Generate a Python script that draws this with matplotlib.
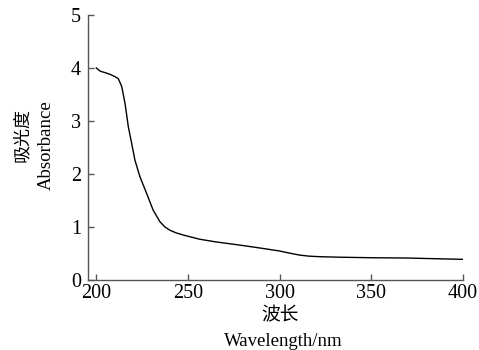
import matplotlib
matplotlib.use("Agg")
import matplotlib.pyplot as plt

wavelength = [200, 202.2, 205, 207.6, 210, 212, 213.9, 215.7, 217.5, 219.3, 221.1, 223.8,
              227.4, 231, 234.7, 237.5, 240.1, 243.5, 247.3, 256.3, 265, 278, 290, 300,
              305, 310.9, 316, 321.7, 332.6, 350.5, 368.8, 387, 400]
absorbance = [4.0, 3.94, 3.91, 3.88, 3.84, 3.8, 3.65, 3.33, 2.89, 2.58, 2.26, 1.95,
              1.64, 1.32, 1.10, 1.0, 0.94, 0.89, 0.85, 0.77, 0.72, 0.66, 0.6, 0.547,
              0.51, 0.47, 0.45, 0.44, 0.43, 0.42, 0.415, 0.40, 0.39]
xticks = [200, 250, 300, 350, 400]
yticks = [0, 1, 2, 3, 4, 5]

fam = ['Liberation Serif', 'Noto Sans CJK SC']
plt.rcParams['font.family'] = fam

W, H = 479, 350
fig = plt.figure(figsize=(W/100, H/100), dpi=100)
ax = fig.add_axes([88/W, 70/H, (463-88)/W, (280-15)/H])
ax.plot(wavelength, absorbance, color='black', lw=1.0)
ax.set_xlim(195.5, 400)
ax.set_ylim(0, 5)
ax.set_xticks(xticks)
ax.set_yticks(yticks)
ax.spines['top'].set_visible(False)
ax.spines['right'].set_visible(False)
for s in ['left', 'bottom']:
    ax.spines[s].set_color('#555555')
    ax.spines[s].set_linewidth(1.0)
ax.tick_params(direction='in', length=4, width=1, colors='#555555', labelcolor='black',
               labelsize=14.5)
ax.tick_params(axis='y', pad=5)
ax.tick_params(axis='x', pad=3)

def px(x, y):
    return x / W, 1 - y / H

fig.text(*px(22, 135), '吸光度', rotation=90, ha='center', va='center',
         fontsize=13, family=fam)
fig.text(*px(46, 145), 'Absorbance', rotation=90, ha='center', va='center',
         fontsize=13.5, family=fam)
fig.text(*px(280, 316), '波长', ha='center', va='center', fontsize=13.5, family=fam)
fig.text(*px(283, 341), 'Wavelength/nm', ha='center', va='center', fontsize=13.5, family=fam)
fig.savefig('out.png', dpi=100)
